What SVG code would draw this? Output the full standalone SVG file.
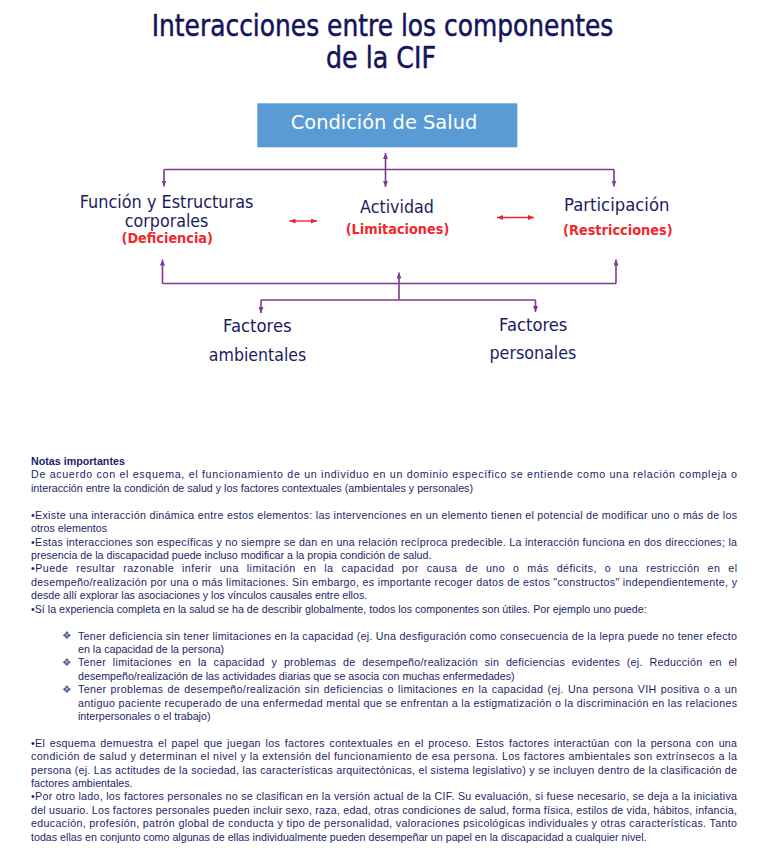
<svg xmlns="http://www.w3.org/2000/svg" width="768" height="866" viewBox="0 0 768 866">
<defs>
<marker id="ap" viewBox="0 0 6 5" refX="6" refY="2.5" markerWidth="6" markerHeight="5" markerUnits="userSpaceOnUse" orient="auto-start-reverse"><path d="M0,0 L6,2.5 L0,5 z" fill="#7E3A93"/></marker>
<marker id="ar" viewBox="0 0 6 5" refX="6" refY="2.5" markerWidth="6" markerHeight="5" markerUnits="userSpaceOnUse" orient="auto-start-reverse"><path d="M0,0 L6,2.5 L0,5 z" fill="#E8262B"/></marker>
</defs>
<style>
.t{font-family:"DejaVu Sans","Liberation Sans",sans-serif;fill:#14145A;stroke:#14145A;stroke-width:0.5}
.n{font-family:"DejaVu Sans","Liberation Sans",sans-serif;fill:#1B1B5E;font-size:17px}
.r{font-family:"DejaVu Sans","Liberation Sans",sans-serif;fill:#EE2A2E;font-size:14px;font-weight:bold}
.c{fill:none;stroke:#7E3A93;stroke-width:1.6}
.rc{fill:none;stroke:#E8262B;stroke-width:1.4}
.b{font-family:"Liberation Sans",Arial,sans-serif;font-size:10.7px;fill:#1E1E66}
.d{font-family:"DejaVu Sans",sans-serif;font-size:10.5px;fill:#4A5B8C}
</style>
<rect width="768" height="866" fill="#FFFFFF"/>
<g id="title">
<text class="t" x="151.7" y="36" font-size="30" textLength="461.6" lengthAdjust="spacingAndGlyphs">Interacciones entre los componentes</text>
<text class="t" x="326" y="68" font-size="30" textLength="110" lengthAdjust="spacingAndGlyphs">de la CIF</text>
</g>
<g id="condicion">
<rect x="257.3" y="103.3" width="260" height="44" fill="#5B9BD5"/>
<text x="290.7" y="129.3" font-family="DejaVu Sans, Liberation Sans, sans-serif" font-size="20" fill="#FFFFFF" textLength="186.6" lengthAdjust="spacingAndGlyphs">Condición de Salud</text>
</g>
<g id="funcion">
<text class="n" x="79.7" y="207.5" font-size="16.5" textLength="173.7" lengthAdjust="spacingAndGlyphs">Función y Estructuras</text>
<text class="n" x="124.8" y="226.5" font-size="16.5" textLength="83.6" lengthAdjust="spacingAndGlyphs">corporales</text>
<text class="r" x="121.5" y="243.3" textLength="91.4" lengthAdjust="spacingAndGlyphs">(Deficiencia)</text>
</g>
<g id="actividad">
<text class="n" x="360" y="213.3" textLength="74" lengthAdjust="spacingAndGlyphs">Actividad</text>
<text class="r" x="345.7" y="234" textLength="103.6" lengthAdjust="spacingAndGlyphs">(Limitaciones)</text>
</g>
<g id="participacion">
<text class="n" x="564" y="211" textLength="105.4" lengthAdjust="spacingAndGlyphs">Participación</text>
<text class="r" x="563" y="235" textLength="109.7" lengthAdjust="spacingAndGlyphs">(Restricciones)</text>
</g>
<g id="ambientales">
<text class="n" x="223" y="331.5" font-size="16" textLength="68.6" lengthAdjust="spacingAndGlyphs">Factores</text>
<text class="n" x="208.8" y="360.5" font-size="16" textLength="97.5" lengthAdjust="spacingAndGlyphs">ambientales</text>
</g>
<g id="personales">
<text class="n" x="499" y="330.5" font-size="16" textLength="68.4" lengthAdjust="spacingAndGlyphs">Factores</text>
<text class="n" x="489.5" y="358.5" font-size="16" textLength="86.9" lengthAdjust="spacingAndGlyphs">personales</text>
</g>
<g id="connectors">
<path class="c" d="M164,169.5 H614"/>
<path class="c" d="M164,169.5 V186.5" marker-end="url(#ap)"/>
<path class="c" d="M614,169.5 V186.5" marker-end="url(#ap)"/>
<path class="c" d="M385.5,153 V187" marker-start="url(#ap)" marker-end="url(#ap)"/>
<path class="rc" d="M289.5,221 H317" marker-start="url(#ar)" marker-end="url(#ar)"/>
<path class="rc" d="M497,217.5 H534" marker-start="url(#ar)" marker-end="url(#ar)"/>
<path class="c" d="M162.5,283.5 H616"/>
<path class="c" d="M162.5,283.5 V259.5" marker-end="url(#ap)"/>
<path class="c" d="M616,283.5 V259.5" marker-end="url(#ap)"/>
<path class="c" d="M399,300 V272.5" marker-end="url(#ap)"/>
<path class="c" d="M261,300 H535.5"/>
<path class="c" d="M261,300 V313" marker-end="url(#ap)"/>
<path class="c" d="M535.5,300 V312" marker-end="url(#ap)"/>
</g>
<g id="notas" xml:space="preserve">
<text class="b" x="31" y="465" font-weight="bold">Notas importantes</text>
<text class="b" x="31" y="478.4" textLength="706" lengthAdjust="spacing">De acuerdo con el esquema, el funcionamiento de un individuo en un dominio específico se entiende como una relación compleja o</text>
<text class="b" x="31" y="491.8">interacción entre la condición de salud y los factores contextuales (ambientales y personales)</text>
<text class="b" x="31" y="518.7" textLength="706" lengthAdjust="spacing">•Existe una interacción dinámica entre estos elementos: las intervenciones en un elemento tienen  el potencial de modificar uno o más de los</text>
<text class="b" x="31" y="532.1">otros elementos</text>
<text class="b" x="31" y="545.5" textLength="706" lengthAdjust="spacing">•Estas interacciones son específicas y no siempre se dan en una relación recíproca predecible. La interacción funciona en dos direcciones; la</text>
<text class="b" x="31" y="558.9">presencia de la discapacidad puede incluso modificar a la propia condición de salud.</text>
<text class="b" x="31" y="572.4" word-spacing="4.5" textLength="706" lengthAdjust="spacing">•Puede resultar razonable inferir una limitación en la capacidad por causa de uno o más déficits, o una restricción en el</text>
<text class="b" x="31" y="585.8" textLength="706" lengthAdjust="spacing">desempeño/realización por una o más limitaciones. Sin embargo, es importante recoger datos de estos "constructos" independientemente, y</text>
<text class="b" x="31" y="599.2">desde allí explorar las asociaciones y los vínculos causales entre ellos.</text>
<text class="b" x="31" y="612.6">•Sí la experiencia completa en la salud se ha de describir globalmente, todos los componentes son útiles. Por ejemplo uno puede:</text>
<text class="d" x="62" y="639.3">❖</text>
<text class="b" x="78" y="639.5" textLength="659" lengthAdjust="spacing">Tener deficiencia sin tener limitaciones en la capacidad (ej. Una desfiguración como consecuencia de la lepra puede no tener efecto</text>
<text class="b" x="78" y="652.9">en la capacidad de la persona)</text>
<text class="d" x="62" y="666.1">❖</text>
<text class="b" x="78" y="666.3" word-spacing="3.5" textLength="659" lengthAdjust="spacing">Tener limitaciones en la capacidad y problemas de desempeño/realización sin deficiencias evidentes (ej. Reducción en el</text>
<text class="b" x="78" y="679.8">desempeño/realización de las actividades diarias que se asocia con muchas enfermedades)</text>
<text class="d" x="62" y="693">❖</text>
<text class="b" x="78" y="693.2" word-spacing="1" textLength="659" lengthAdjust="spacing">Tener problemas de desempeño/realización sin deficiencias o limitaciones en la capacidad (ej. Una persona VIH positiva o a un</text>
<text class="b" x="78" y="706.6" textLength="659" lengthAdjust="spacing">antiguo paciente recuperado de una enfermedad mental que se enfrentan a la estigmatización o la discriminación en las relaciones</text>
<text class="b" x="78" y="720">interpersonales o el trabajo)</text>
<text class="b" x="31" y="746.8" word-spacing="1.5" textLength="706" lengthAdjust="spacing">•El esquema demuestra el papel que juegan los factores contextuales en el proceso. Estos factores interactúan con la persona con una</text>
<text class="b" x="31" y="760.2" textLength="706" lengthAdjust="spacing">condición de salud y determinan el nivel y la extensión del funcionamiento de esa persona. Los factores ambientales son extrínsecos a la</text>
<text class="b" x="31" y="773.6" textLength="706" lengthAdjust="spacing">persona (ej. Las actitudes de la sociedad, las características arquitectónicas, el sistema legislativo) y se incluyen dentro de la clasificación de</text>
<text class="b" x="31" y="787">factores ambientales.</text>
<text class="b" x="31" y="800.4" textLength="706" lengthAdjust="spacing">•Por otro lado, los factores personales no se clasifican en la versión actual de la CIF. Su evaluación, si fuese necesario, se deja a la iniciativa</text>
<text class="b" x="31" y="813.8" textLength="706" lengthAdjust="spacing">del usuario. Los factores personales pueden incluir sexo, raza, edad, otras condiciones de salud, forma física, estilos de vida, hábitos, infancia,</text>
<text class="b" x="31" y="827.2" textLength="706" lengthAdjust="spacing">educación, profesión, patrón global de conducta y tipo de personalidad, valoraciones psicológicas individuales y otras características. Tanto</text>
<text class="b" x="31" y="840.6">todas ellas en conjunto como algunas de ellas individualmente pueden desempeñar un papel en la discapacidad a cualquier nivel.</text>
</g>
</svg>
